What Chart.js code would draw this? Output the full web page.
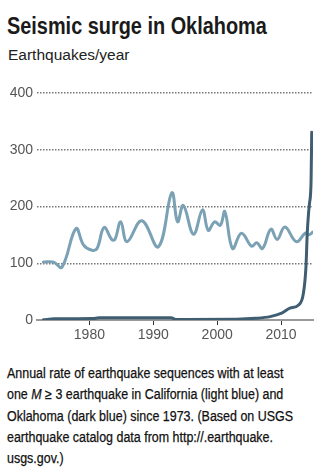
<!DOCTYPE html>
<html>
<head>
<meta charset="utf-8">
<script src="https://cdn.jsdelivr.net/npm/chart.js@4/dist/chart.umd.min.js"></script>
<style>
  body { margin: 0; width: 321px; height: 469px; background: #fff; position: relative; overflow: hidden; }
  #title { position: absolute; left: 7px; top: 13px; font: bold 23px "Liberation Sans", sans-serif; color: #1a1a1a; white-space: nowrap; transform: scaleX(0.865); transform-origin: 0 0; }
  #sub { position: absolute; left: 8px; top: 46px; font: 15.5px "Liberation Sans", sans-serif; color: #222; white-space: nowrap; }
  #wrap { position: absolute; left: 0; top: 80px; width: 321px; height: 270px; }
  #note { position: absolute; left: 7px; top: 363px; font: 14px/21.3px "Liberation Sans", sans-serif; color: #111; white-space: nowrap; transform: scaleX(0.89); transform-origin: 0 0; -webkit-text-stroke: 0.25px #111; }
</style>
</head>
<body>
<div id="title">Seismic surge in Oklahoma</div>
<div id="sub">Earthquakes/year</div>
<div id="wrap"><canvas id="myChart"></canvas></div>
<div id="note">Annual rate of earthquake sequences with at least<br>one <i>M</i> ≥ 3 earthquake in California (light blue) and<br>Oklahoma (dark blue) since 1973. (Based on USGS<br>earthquake catalog data from http://.earthquake.<br>usgs.gov.)</div>
<script>
// California (light blue)
var caYears = [1972.8, 1974.4, 1975.7, 1977.9, 1979.1, 1980.4, 1981.2, 1982.3, 1983.5, 1984.0, 1984.9, 1985.9, 1988.2, 1990.8, 1992.9, 1993.8, 1994.7, 1996.3, 1997.7, 1998.6, 1999.6, 2000.5, 2001.2, 2002.4, 2003.8, 2005.4, 2006.2, 2007.1, 2008.4, 2009.4, 2010.6, 2012.4, 2013.8, 2014.3, 2015.0];
var caValues = [102, 102, 93, 161, 132, 123, 126, 163, 142, 142, 173, 138, 175, 129, 224, 173, 202, 151, 194, 158, 173, 167, 191, 126, 153, 130, 136, 126, 160, 142, 164, 138, 153, 150, 155];

// Oklahoma (dark blue)
var okYears = [1972.8, 1974.5, 1980.5, 1981.5, 1992.8, 1993.5, 2003, 2006, 2008.3, 2010.1, 2011.4, 2012.7, 2013.5, 2013.9, 2014.1, 2014.3, 2014.45, 2014.7, 2014.8];
var okValues = [0.5, 2, 2.5, 4, 4, 1, 1.5, 3, 6, 12, 21, 26, 47, 94, 153, 188, 205, 246, 331];

var xTicks = [1980, 1990, 2000, 2010];
var yTicks = [0, 100, 200, 300, 400];

function pts(xs, ys) {
  return xs.map(function (x, i) { return { x: x, y: ys[i] }; });
}

new Chart("myChart", {
  type: "line",
  data: {
    datasets: [{
      label: "Oklahoma",
      data: pts(okYears, okValues),
      borderColor: "#3f5e72",
      borderWidth: 3,
      pointRadius: 0,
      cubicInterpolationMode: "monotone",
      borderCapStyle: "round",
      order: 0
    }, {
      label: "California",
      data: pts(caYears, caValues),
      borderColor: "#7ba1b5",
      borderWidth: 3,
      pointRadius: 0,
      tension: 0.4,
      borderCapStyle: "round",
      order: 1
    }]
  },
  options: {
    responsive: true,
    maintainAspectRatio: false,
    animation: false,
    layout: { padding: { top: 13, right: 8, bottom: 0, left: 0 } },
    plugins: { legend: { display: false }, tooltip: { enabled: false } },
    scales: {
      x: {
        type: "linear",
        min: 1971.8,
        max: 2015,
        afterBuildTicks: function (axis) { axis.ticks = xTicks.map(function (v) { return { value: v }; }); },
        afterFit: function (axis) { axis.height = 30; },
        ticks: {
          color: "#555",
          font: { family: "Liberation Sans", size: 14 },
          padding: 2,
          maxRotation: 0,
          callback: function (v) { return String(v); }
        },
        grid: { drawOnChartArea: false, drawTicks: true, tickLength: 5, tickColor: "#333", tickWidth: 1 },
        border: { display: true, color: "#999", width: 2 }
      },
      y: {
        min: 0,
        max: 400,
        afterBuildTicks: function (axis) { axis.ticks = yTicks.map(function (v) { return { value: v }; }); },
        afterFit: function (axis) { axis.width = 37; },
        ticks: {
          color: "#555",
          font: { family: "Liberation Sans", size: 14 },
          padding: 4
        },
        grid: { color: "#777", lineWidth: 1.5, drawTicks: false },
        border: { display: false, dash: [1.5, 1.5] }
      }
    }
  }
});
</script>
</body>
</html>
